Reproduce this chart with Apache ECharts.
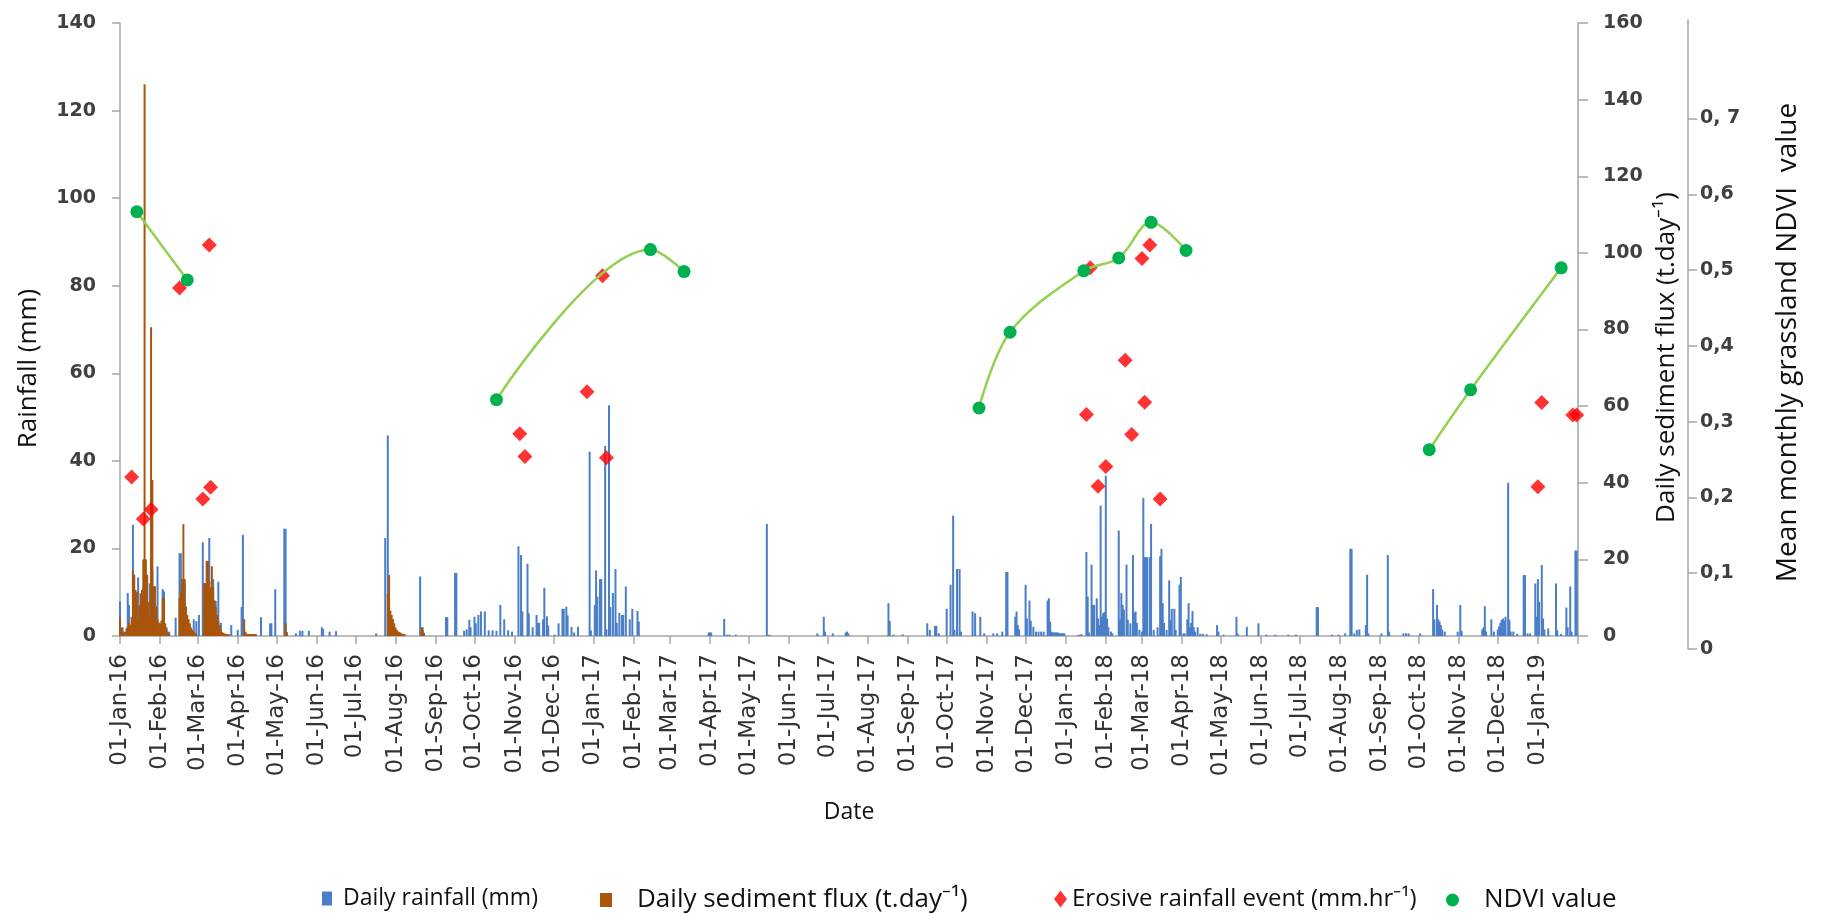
<!DOCTYPE html>
<html><head><meta charset="utf-8">
<script src="https://cdn.jsdelivr.net/npm/echarts@6/dist/echarts.min.js"></script>
<style>html,body{margin:0;padding:0;background:#fff}#c{width:1823px;height:915px}</style>
</head><body><div id="c"></div>
<script>
// ---- data (day index counted from 01-Jan-2016) ----
const dayCount = 1128; // 01-Jan-16 .. 01-Feb-19
const monthNames = ['Jan','Feb','Mar','Apr','May','Jun','Jul','Aug','Sep','Oct','Nov','Dec'];

// Daily rainfall (mm): [day, mm]
const rainfall = [[0,7.9],[2,2],[4,1],[6,9.8],[7,7.1],[10,25.4],[11,3.7],[13,6],[14,13.4],[16,9.8],[17,4],[18,11],[19,14],[20,8],[22,5],[23,12],[24,18],[25,15],[26,6],[28,4],[29,15.9],[31,2],[33,10.7],[34,10.2],[36,2],[38,1],[43,4.2],[46,18.9],[47,18.9],[48,6],[49,10],[50,12],[52,3],[57,3.8],[59,3.4],[61,4.8],[64,21.4],[66,12],[67,8],[68,10],[69,22.4],[70,9],[72,13],[74,8],[76,12.4],[78,3],[86,2.5],[91,1.4],[94,6.6],[95,23.1],[109,4.3],[116,2.9],[117,2.9],[120,10.7],[127,24.5],[128,24.5],[136,0.6],[139,1.2],[141,1.2],[146,1.2],[156,2],[157,1.6],[162,1],[167,1.1],[198,0.6],[205,22.4],[207,45.8],[208,8],[209,3],[232,13.6],[234,2],[252,4.3],[253,4.3],[259,14.4],[260,14.4],[266,1.2],[268,1.5],[270,3.7],[271,2],[274,4.4],[275,2.9],[277,4.8],[279,5.6],[282,5.6],[285,1.3],[288,1.3],[291,1.2],[294,7.1],[297,3.8],[300,1.3],[303,1],[308,20.5],[310,18.5],[311,5.6],[315,16.5],[316,5.2],[319,2],[322,4.8],[323,3],[324,3],[327,3.8],[328,11],[330,4.5],[331,2.4],[336,0.3],[339,2.9],[342,6.2],[343,6.2],[345,6.7],[346,4.7],[349,2.1],[351,0.8],[354,2.1],[363,42.1],[364,1.3],[367,7.1],[368,15],[369,9],[371,13],[372,13],[375,43.4],[376,1.5],[378,52.7],[379,6.6],[381,9.8],[383,15.3],[384,3],[386,5.3],[388,4.8],[389,4.8],[391,11.3],[394,3.8],[396,6.2],[400,5.7],[401,3.3],[455,0.8],[456,0.8],[457,0.8],[467,3.9],[469,0.3],[471,0.3],[476,0.3],[500,25.6],[502,0.3],[539,0.6],[544,4.4],[545,1],[551,0.6],[561,0.8],[562,1],[563,0.6],[594,7.5],[595,3.4],[598,0.3],[605,0.4],[624,2.9],[626,1.4],[630,2.3],[631,2.3],[633,0.6],[639,6.2],[642,11.7],[644,27.5],[645,1.4],[647,15.3],[649,15.3],[650,1],[659,5.6],[661,5.2],[665,4.4],[668,0.6],[675,0.6],[678,0.6],[682,1],[685,14.6],[686,14.6],[692,4.4],[693,5.6],[694,2.5],[695,1.5],[700,11.7],[701,4],[703,8.1],[704,3.5],[706,2.1],[708,1],[710,1],[712,1],[714,1],[717,8.1],[718,8.6],[719,3.3],[720,1],[721,0.8],[722,0.8],[723,0.8],[724,0.8],[725,0.8],[726,0.6],[727,0.6],[728,0.6],[729,0.6],[730,0.6],[741,0.3],[743,0.4],[747,19.2],[748,9],[749,0.8],[751,16.3],[752,7.1],[753,7.1],[755,8.6],[756,4],[757,2.5],[758,29.8],[759,4.4],[760,5.2],[761,5.5],[762,36.6],[763,4],[764,2],[766,1],[767,0.6],[772,24.1],[773,3.8],[774,9.8],[775,7.1],[776,6],[778,16.3],[779,3.7],[781,2.9],[783,18.5],[784,5.3],[785,5.6],[786,3],[788,1.4],[790,1],[791,31.5],[792,18],[793,18],[794,18],[796,18],[797,25.6],[799,1.4],[802,2],[804,18.2],[805,19.9],[806,7.5],[807,3],[809,1.4],[811,12.7],[812,3.7],[813,6.2],[815,6.2],[816,1.4],[819,11.7],[820,13.5],[822,0.6],[823,0.6],[825,3.8],[826,7.5],[827,2],[828,3],[829,5.7],[830,2],[831,1],[833,2],[835,0.5],[837,0.5],[840,0.4],[848,2.5],[849,1],[853,0.3],[863,4.4],[864,0.5],[871,2.1],[880,2.9],[886,0.3],[893,0.3],[903,0.3],[909,0.3],[925,6.6],[926,6.6],[937,0.3],[942,0.3],[947,0.6],[951,19.9],[952,19.9],[954,0.6],[956,1.4],[958,1.5],[963,2.5],[964,14],[965,0.6],[975,0.6],[980,18.5],[981,1],[992,0.6],[994,0.6],[996,0.6],[1005,0.6],[1015,10.7],[1016,3.8],[1018,7.1],[1019,3.8],[1020,3.3],[1021,2.5],[1022,1.5],[1024,1],[1034,1],[1036,7.1],[1037,1.2],[1053,1.5],[1054,2],[1055,6.8],[1056,1],[1060,3.8],[1062,1],[1065,1.5],[1066,2.2],[1067,3],[1068,3.7],[1069,4],[1070,3.5],[1071,4.4],[1073,35],[1074,3.7],[1075,1],[1077,1],[1080,0.5],[1085,13.9],[1086,13.9],[1088,0.6],[1090,0.6],[1094,12],[1095,4.4],[1096,13],[1097,7.8],[1099,16.2],[1100,4],[1101,1.5],[1104,1.7],[1110,12],[1111,1.3],[1114,0.5],[1118,6.5],[1119,2],[1121,11.3],[1122,1],[1125,19.5],[1126,19.5]];

// Daily sediment flux (t/day): [day, t]
const sediment = [[0,4.9],[1,2.2],[2,1.2],[3,1],[5,2],[6,2.5],[7,3.5],[8,3],[9,5],[10,17],[11,16],[12,12],[13,11.5],[14,4.4],[15,8],[16,11],[17,12],[18,20],[19,144],[20,20],[21,16],[22,8.8],[23,5.5],[24,80.6],[25,40.7],[26,13],[27,13],[28,7.7],[29,4.4],[30,3.5],[31,3.3],[32,4],[33,9.9],[34,9.9],[35,3.3],[36,1.7],[37,1],[38,0.5],[46,9.9],[47,11.6],[48,14.9],[49,29.2],[50,14.9],[51,7.7],[52,5.5],[53,4.4],[54,3.3],[55,2.2],[56,1.6],[57,1.1],[58,0.8],[59,0.5],[65,13.8],[66,13.8],[67,19.6],[68,19.6],[69,14.3],[70,12.7],[71,18.2],[72,12.7],[73,9.3],[74,7.7],[75,5.5],[76,3.9],[77,2.8],[78,1.7],[79,1],[80,0.8],[81,0.6],[82,0.5],[83,0.5],[84,0.5],[96,4.4],[97,1.1],[98,0.6],[99,0.5],[100,0.5],[101,0.5],[102,0.5],[103,0.5],[104,0.5],[105,0.5],[128,3.3],[129,1],[207,11],[208,15.9],[209,6.6],[210,5.5],[211,4.4],[212,3.3],[213,2.2],[214,1.6],[215,1.2],[216,1],[217,0.8],[218,0.6],[219,0.5],[220,0.5],[233,2.3],[234,1.5],[235,0.8]];

// Erosive rainfall events (mm/hr): [day, intensity]
const erosive = [[9,36.3],[18,26.7],[24,28.9],[46,79.5],[64,31.3],[69,89.3],[70,34],[309,46.2],[313,41],[361,55.8],[373,82.3],[376,40.7],[747,50.6],[750,84.1],[756,34.2],[762,38.7],[777,63],[782,46],[790,86.2],[792,53.4],[796,89.3],[804,31.3],[1096,34.1],[1099,53.3],[1123,50.5],[1126,50.5]];

// NDVI: [day, value] and the run each point belongs to
const ndviPoints = [[13,0.577],[52,0.487],[291,0.329],[410,0.527],[436,0.498],[664,0.318],[688,0.418],[745,0.499],[772,0.516],[797,0.563],[824,0.526],[1012,0.263],[1044,0.342],[1114,0.503]];
const ndviGroup = [1,1,2,2,2,3,3,3,3,3,3,4,4,4];
const ndviTickValues = [0,0.1,0.2,0.3,0.4,0.5,0.6,0.7];
const ndviTickLabels = ['0','0,1','0,2','0,3','0,4','0,5','0,6','0, 7'];

// ---- build ----
const pad = n => (n < 10 ? '0' : '') + n;
const categories = [];
for (let i = 0; i < dayCount; i++) {
  const d = new Date(Date.UTC(2016, 0, 1 + i));
  categories.push(pad(d.getUTCDate()) + '-' + monthNames[d.getUTCMonth()] + '-' + String(d.getUTCFullYear()).slice(2));
}
const rainDaily = new Array(dayCount).fill(null);
rainfall.forEach(([d, v]) => { rainDaily[d] = v; });
const sedDaily = new Array(dayCount).fill(null);
sediment.forEach(([d, v]) => { sedDaily[d] = v; });

const groups = {};
ndviPoints.forEach((p, i) => { (groups[ndviGroup[i]] = groups[ndviGroup[i]] || []).push(p); });

const axisGray = '#A6A6A6';
const tickFont = { fontFamily: 'DejaVu Sans', fontWeight: 'bold', fontSize: 19, color: '#404040' };
const titleFont = { fontFamily: 'Open Sans', fontSize: 23, color: '#111' };

const ndviSeries = Object.keys(groups).map(k => ({
  name: 'NDVI value', type: 'line', xAxisIndex: 1, yAxisIndex: 2,
  data: groups[k], smooth: 0.35, symbol: 'circle', symbolSize: 13, showSymbol: true, showAllSymbol: true,
  itemStyle: { color: '#00B050' }, lineStyle: { color: '#92D050', width: 2.5 }, z: 6
}));

const legendBase = { top: 882, itemHeight: 14, textStyle: { fontFamily: 'Open Sans', fontSize: 23, color: '#111' } };

const option = {
  backgroundColor: '#fff',
  animation: false,
  grid: [
    { left: 120, right: 245, top: 23, bottom: 279 },
    { left: 120, right: 245, top: 20, bottom: 266 }
  ],
  legend: [
    Object.assign({}, legendBase, { left: 317, itemWidth: 10, data: [{ name: 'Daily rainfall (mm)', icon: 'rect' }],
      textStyle: Object.assign({}, legendBase.textStyle, { padding: [0, 0, 0, 6] }) }),
    Object.assign({}, legendBase, { left: 595, itemWidth: 12, data: [{ name: 'Daily sediment flux (t.day\u207B\u00B9)', icon: 'rect' }],
      textStyle: Object.assign({}, legendBase.textStyle, { padding: [0, 0, 0, 20], fontSize: 26 }) }),
    Object.assign({}, legendBase, { left: 1049, itemWidth: 13, itemHeight: 17, data: [{ name: 'Erosive rainfall event (mm.hr\u207B\u00B9)', icon: 'diamond' }],
      textStyle: Object.assign({}, legendBase.textStyle, { padding: [0, 0, 0, 0], fontSize: 24 }) }),
    Object.assign({}, legendBase, { left: 1441, itemWidth: 13, itemHeight: 13, data: [{ name: 'NDVI value', icon: 'circle' }],
      textStyle: Object.assign({}, legendBase.textStyle, { padding: [0, 0, 0, 20], fontSize: 26 }) })
  ],
  xAxis: [
    {
      type: 'category', gridIndex: 0, data: categories, boundaryGap: false,
      axisLine: { lineStyle: { color: axisGray, width: 1.5 } },
      axisTick: { length: 8, lineStyle: { color: axisGray, width: 1.5 }, interval: (i, v) => v.startsWith('01-') },
      axisLabel: { interval: (i, v) => v.startsWith('01-') && i < dayCount - 1, rotate: 90, margin: 18,
        fontFamily: 'DejaVu Sans', fontSize: 23, color: '#333' },
      name: 'Date', nameLocation: 'middle', nameGap: 165, nameTextStyle: titleFont
    },
    { type: 'category', gridIndex: 1, data: categories, boundaryGap: false, show: false }
  ],
  yAxis: [
    {
      type: 'value', gridIndex: 0, position: 'left', min: 0, max: 140, interval: 20,
      axisLine: { show: true, lineStyle: { color: axisGray, width: 1.5 } },
      axisTick: { show: true, length: 8, lineStyle: { color: axisGray, width: 1.5 } },
      splitLine: { show: false },
      axisLabel: Object.assign({ margin: 24 }, tickFont),
      name: 'Rainfall (mm)', nameLocation: 'middle', nameRotate: 90, nameGap: 78,
      nameTextStyle: Object.assign({}, titleFont, { fontSize: 26, padding: [0, 78, 0, 0] })
    },
    {
      type: 'value', gridIndex: 0, position: 'right', min: 0, max: 160, interval: 20,
      axisLine: { show: true, lineStyle: { color: axisGray, width: 1.5 } },
      axisTick: { show: true, length: 10, lineStyle: { color: axisGray, width: 1.5 } },
      splitLine: { show: false },
      axisLabel: Object.assign({ margin: 25 }, tickFont),
      name: 'Daily sediment flux (t.day\u207B\u00B9)', nameLocation: 'middle', nameRotate: 90, nameGap: 72,
      nameTextStyle: Object.assign({}, titleFont, { fontSize: 26, padding: [0, 56, 0, 0] })
    },
    {
      type: 'value', gridIndex: 1, position: 'right', offset: 110, min: 0, max: 0.83, interval: 0.1,
      axisLine: { show: true, lineStyle: { color: axisGray, width: 1.5 } },
      axisTick: { show: true, length: 9, customValues: ndviTickValues, lineStyle: { color: axisGray, width: 1.5 } },
      splitLine: { show: false },
      axisLabel: Object.assign({ margin: 12, customValues: ndviTickValues,
        formatter: v => ndviTickLabels[Math.round(v * 10)] }, tickFont),
      name: 'Mean monthly grassland NDVI  value', nameLocation: 'middle', nameRotate: 90, nameGap: 86,
      nameTextStyle: Object.assign({}, titleFont, { fontSize: 28, padding: [0, 16, 0, 0] })
    }
  ],
  series: [
    { name: 'Daily rainfall (mm)', type: 'bar', xAxisIndex: 0, yAxisIndex: 0, data: rainDaily,
      barWidth: 2, barGap: '-100%', itemStyle: { color: '#4A7EC7' }, z: 2 },
    { name: 'Daily sediment flux (t.day\u207B\u00B9)', type: 'bar', xAxisIndex: 0, yAxisIndex: 1, data: sedDaily,
      barWidth: 2, barGap: '-100%', itemStyle: { color: '#A9550B' }, z: 3 },
    { name: 'Erosive rainfall event (mm.hr\u207B\u00B9)', type: 'scatter', xAxisIndex: 0, yAxisIndex: 0, data: erosive,
      symbol: 'diamond', symbolSize: 15, itemStyle: { color: '#FF0000' }, z: 5 }
  ].concat(ndviSeries)
};

const chart = echarts.init(document.getElementById('c'), null, { renderer: 'canvas' });
chart.setOption(option);
</script>
</body></html>
